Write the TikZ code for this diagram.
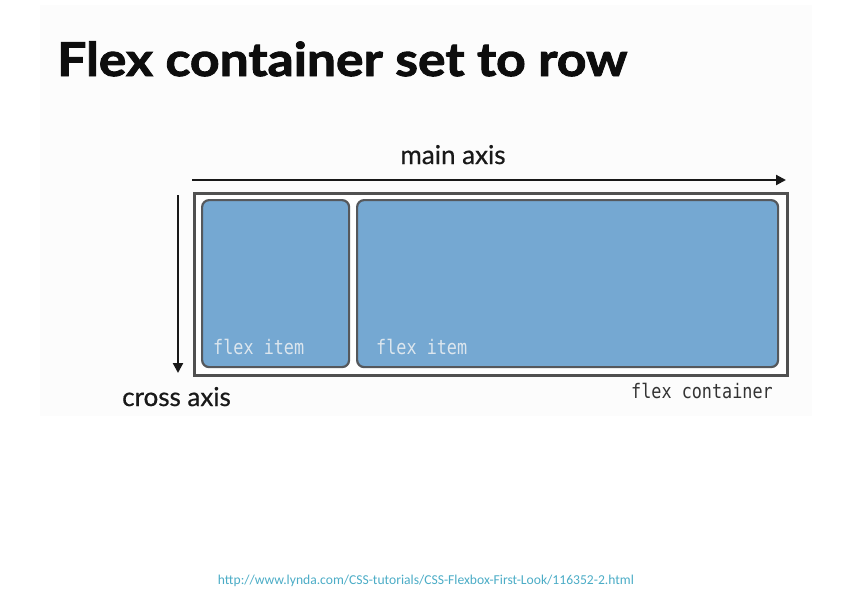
\documentclass[tikz,border=0pt]{standalone}
\usepackage{fontspec}
\setmainfont{Lato}
\newfontfamily\titlefont[FakeBold=2,FakeStretch=1.11]{Lato Bold}
\newfontfamily\labelfont[FakeBold=0.6]{Lato}
\newfontfamily\codefont[FakeStretch=0.84]{DejaVu Sans Mono}
\newfontfamily\urlfont{Carlito}
\usetikzlibrary{arrows.meta}
\definecolor{panelbg}{RGB}{252,252,252}
\definecolor{itemblue}{RGB}{117,168,210}
\definecolor{itemedge}{RGB}{85,88,92}
\definecolor{boxedge}{RGB}{80,80,80}
\definecolor{itemtext}{RGB}{220,230,238}
\definecolor{urlblue}{RGB}{75,172,198}
\tikzset{
  titletext/.style={anchor=base west, inner sep=0, font=\titlefont\fontsize{46.5}{50}\selectfont, text=black!95},
  axislabel/.style={inner sep=0, font=\labelfont\fontsize{26}{30}\selectfont, text=black!90},
  container/.style={draw=boxedge, line width=3pt, fill=white, anchor=north west, inner sep=0},
  flexitem/.style={draw=itemedge, line width=2.2pt, fill=itemblue, rounded corners=7pt, anchor=north west, inner sep=0},
  itemlabel/.style={anchor=base west, inner sep=0, font=\codefont\fontsize{20}{24}\selectfont, text=itemtext},
  boxlabel/.style={anchor=base east, inner sep=0, font=\codefont\fontsize{20}{24}\selectfont, text=black!80},
  axisarrow/.style={draw=black!90, line width=2.2pt, -{Triangle[length=10pt,width=10pt]}},
  urltext/.style={anchor=base, inner sep=0, font=\urlfont\fontsize{13.6}{16}\selectfont, text=urlblue}
}
\begin{document}
\begin{tikzpicture}[x=1pt,y=-1pt]
\useasboundingbox (0,0) rectangle (860,600);
\fill[panelbg] (40,5) rectangle (812,416);
\node[titletext] (title) at (57,76) {Flex container set to row};
\node[axislabel, anchor=base] (mainlbl) at (453,164) {main axis};
\node[axislabel, anchor=base west] (crosslbl) at (122,406) {cross axis};
\node[container, minimum width=593pt, minimum height=182pt] (cont) at (193,192) {};
\node[flexitem, minimum width=147pt, minimum height=167pt] (item1) at (201,199) {};
\node[flexitem, minimum width=421pt, minimum height=167pt] (item2) at (356,199) {};
\node[itemlabel] (lbl1) at ([shift={(12,-14)}]item1.south west) {flex item};
\node[itemlabel] (lbl2) at ([shift={(20,-14)}]item2.south west) {flex item};
\node[boxlabel] (contlbl) at (773,398) {flex container};
\coordinate (mainstart) at (192,180);
\coordinate (mainend) at (786,180);
\coordinate (crossstart) at (178,195);
\coordinate (crossend) at (178,373);
\draw[axisarrow] (mainstart) -- (mainend);
\draw[axisarrow] (crossstart) -- (crossend);
\node[urltext] (url) at (426,584) {http://www.lynda.com/CSS-tutorials/CSS-Flexbox-First-Look/116352-2.html};
\end{tikzpicture}
\end{document}
